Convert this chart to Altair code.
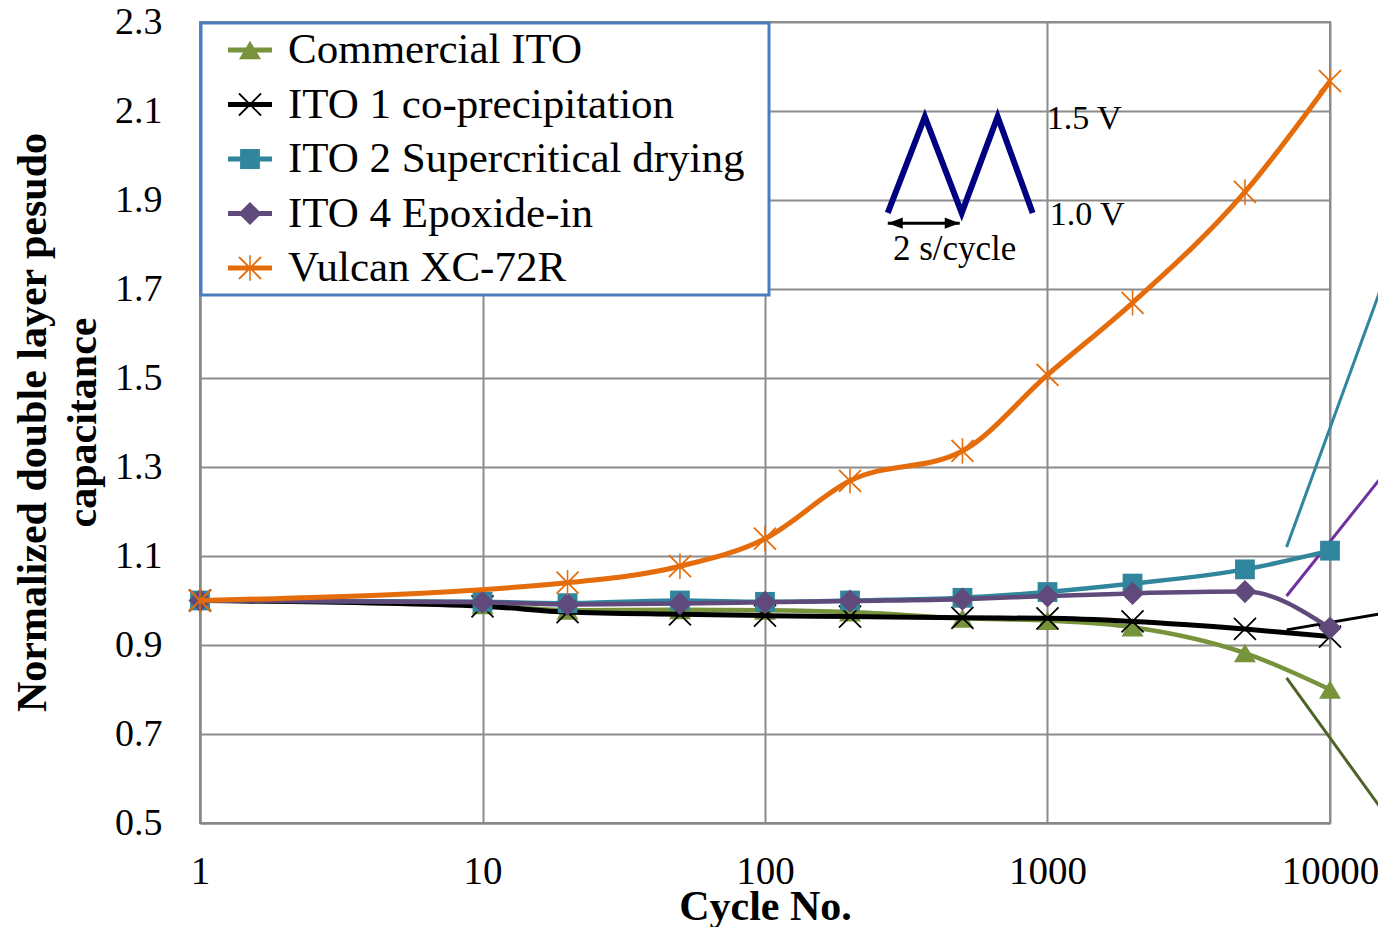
import altair as alt
import pandas as pd

# ---------------- data ----------------
cycles = [1, 10, 20, 50, 100, 200, 500, 1000, 2000, 5000, 10000]
series_names = ["Commercial ITO", "ITO 1 co-precipitation",
                "ITO 2 Supercritical drying", "ITO 4 Epoxide-in", "Vulcan XC-72R"]
commercial = [1.000, 0.990, 0.978, 0.979, 0.978, 0.974, 0.960, 0.955, 0.940, 0.882, 0.800]
ito1 = [1.000, 0.987, 0.974, 0.969, 0.966, 0.964, 0.961, 0.960, 0.953, 0.936, 0.919]
ito2 = [1.000, 0.997, 0.994, 1.000, 0.997, 1.000, 1.006, 1.019, 1.038, 1.070, 1.112]
ito4 = [1.000, 0.996, 0.991, 0.993, 0.996, 0.999, 1.003, 1.010, 1.016, 1.020, 0.938]
vulcan = [1.000, None, 1.040, 1.077, 1.139, 1.269, 1.336, 1.507, 1.669, 1.918, 2.167]
series_values = [commercial, ito1, ito2, ito4, vulcan]

# trend lines (drawn beyond the last cycle)
trend_x = [7020, 20000]
trend_commercial = [0.826, 0.427]
trend_ito1 = [0.934, 0.983]
trend_ito2 = [1.120, 1.912]
trend_ito4 = [1.010, 1.372]
trend_values = [trend_commercial, trend_ito1, trend_ito2, trend_ito4]

# inset: potential cycling schematic
wave_x = [272, 368, 497, 666, 886]
wave_y = [1.871, 2.087, 1.871, 2.087, 1.871]
arrow_x = [272, 489]
arrow_y = [1.848, 1.848]
inset_text = ["1.5 V", "1.0 V", "2 s/cycle"]
inset_text_x = [993, 1018, 469]
inset_text_y = [2.083, 1.866, 1.790]

y_ticks = [0.5, 0.7, 0.9, 1.1, 1.3, 1.5, 1.7, 1.9, 2.1, 2.3]
x_ticks = [1, 10, 100, 1000, 10000]

# ---------------- styles ----------------
colors = ["#77933C", "#000000", "#31859C", "#604A7B", "#E46C0A"]
trend_colors = ["#4F6228", "#000000", "#31859C", "#7030A0"]
line_widths = [4.5, 5, 4.5, 4.5, 5]

TRI = "M0,-0.85L-1,0.85L1,0.85Z"
SQR = "M-0.9,-0.9V0.9H0.9V-0.9Z"
DIA = "M0,-1.05L-1.05,0L0,1.05L1.05,0Z"
XX = ("M-1.057,-0.943L0.943,1.057L1.057,0.943L-0.943,-1.057Z"
      "M-0.943,1.057L1.057,-0.943L0.943,-1.057L-1.057,0.943Z")
AST = XX + "M-0.07,-1.15V1.15H0.07V-1.15Z"
BAR = "M-2,-0.22V0.22H2V-0.22Z"
marker_paths = [TRI, XX, SQR, DIA, AST]
legend_paths = [BAR + p for p in marker_paths]

FONT = "Liberation Serif"

rows = []
for name, vals in zip(series_names, series_values):
    for c, v in zip(cycles, vals):
        if v is not None:
            rows.append({"cycle": c, "value": v, "series": name})
df = pd.DataFrame(rows)

trows = []
for name, vals in zip(series_names, trend_values):
    for c, v in zip(trend_x, vals):
        trows.append({"cycle": c, "value": v, "series": name})
tdf = pd.DataFrame(trows)

legend_df = pd.DataFrame({"series": series_names, "i": list(range(5)),
                          "lcol": colors, "lpath": legend_paths})

xs = alt.Scale(type="log", domain=[1, 10000], nice=False)
ys = alt.Scale(domain=[0.5, 2.3], nice=False, zero=False)

X = alt.X("cycle:Q", scale=xs,
          axis=alt.Axis(values=x_ticks, format="d", title="Cycle No.",
                        labelFont=FONT, labelFontSize=39, labelColor="#000",
                        labelPadding=29, ticks=False, labelFlush=False,
                        labelOverlap=False,
                        domainColor="#868686", domainWidth=2,
                        grid=True, gridColor="#8C8C8C", gridWidth=2,
                        titleFont=FONT, titleFontSize=42, titleFontWeight="bold",
                        titleColor="#000", titleY=83, titleBaseline="middle"))
Y = alt.Y("value:Q", scale=ys,
          axis=alt.Axis(values=y_ticks, format=".1f",
                        title=["Normalized double layer pesudo", "capacitance"],
                        labelFont=FONT, labelFontSize=38, labelColor="#000",
                        labelPadding=38, ticks=False, labelFlush=False,
                        labelOverlap=False,
                        domainColor="#868686", domainWidth=2,
                        grid=True, gridColor="#8C8C8C", gridWidth=2,
                        titleFont=FONT, titleFontSize=42, titleFontWeight="bold",
                        titleColor="#000", titleLineHeight=50,
                        titleX=-168, titleY=400, titleAngle=270,
                        titleAlign="center", titleBaseline="middle"))

base = alt.Chart(df)
layers = []

# trend lines
for name, col in zip(series_names[:4], trend_colors):
    layers.append(
        alt.Chart(tdf).transform_filter(alt.datum.series == name)
        .mark_line(color=col, strokeWidth=3, clip=False)
        .encode(x=X, y=Y)
    )

for name, col, lw, path in zip(series_names, colors, line_widths, marker_paths):
    sub = base.transform_filter(alt.datum.series == name)
    layers.append(sub.mark_line(color=col, strokeWidth=lw, interpolate="monotone",
                                clip=False).encode(x=X, y=Y))
    layers.append(sub.mark_point(filled=True, opacity=1, size=484, strokeWidth=0,
                                 color=col, shape=path, clip=False).encode(x=X, y=Y))

# inset schematic
wave = alt.Chart(pd.DataFrame({"cycle": wave_x, "value": wave_y, "i": list(range(5))})) \
    .mark_line(color="#000080", strokeWidth=6, strokeJoin="miter", strokeCap="butt") \
    .encode(x=X, y=Y, order="i:Q")
arrow = alt.Chart(pd.DataFrame({"x1": [arrow_x[0]], "x2": [arrow_x[1]], "value": [arrow_y[0]]})) \
    .mark_rule(color="#000", strokeWidth=3) \
    .encode(x=alt.X("x1:Q", scale=xs), x2="x2:Q", y=alt.Y("value:Q", scale=ys))
heads = alt.Chart(pd.DataFrame({"cycle": arrow_x, "value": arrow_y,
                                "hd": ["M0,0L2,-0.75L2,0.75Z", "M0,0L-2,-0.75L-2,0.75Z"]})) \
    .mark_point(filled=True, opacity=1, size=225, color="#000", strokeWidth=0) \
    .encode(x=X, y=Y, shape=alt.Shape("hd:N", scale=None, legend=None))
tdf_in = pd.DataFrame({"cycle": inset_text_x, "value": inset_text_y, "t": inset_text,
                       "al": ["left", "left", "center"]})
texts_lr = alt.Chart(tdf_in).transform_filter(alt.datum.al == "left") \
    .mark_text(align="left", baseline="middle", font=FONT, fontSize=34, color="#000") \
    .encode(x=X, y=Y, text="t:N")
texts_c = alt.Chart(tdf_in).transform_filter(alt.datum.al == "center") \
    .mark_text(align="center", baseline="middle", font=FONT, fontSize=35, color="#000") \
    .encode(x=X, y=Y, text="t:N")

# legend (frame + entries laid out from the series list)
frame = alt.Chart(pd.DataFrame({"a": [0]})).mark_rect(
    fill="white", stroke="#4A7EBB", strokeWidth=3
).encode(x=alt.value(1), x2=alt.value(569), y=alt.value(1), y2=alt.value(273))
leg = alt.Chart(legend_df).transform_calculate(ly="28 + 54.5 * datum.i")
leg_sym = leg.mark_point(filled=True, opacity=1, size=484, strokeWidth=0).encode(
    x=alt.value(50), y=alt.Y("ly:Q", scale=None),
    shape=alt.Shape("lpath:N", scale=None, legend=None),
    color=alt.Color("lcol:N", scale=None, legend=None))
leg_txt = leg.mark_text(align="left", baseline="middle", font=FONT, fontSize=43,
                        color="#000").encode(
    x=alt.value(88), y=alt.Y("ly:Q", scale=None), text="series:N")

chart = alt.layer(*layers, wave, arrow, heads, texts_lr, texts_c,
                  frame, leg_sym, leg_txt).properties(
    width=1130, height=801,
    autosize=alt.AutoSizeParams(type="none"),
    padding={"left": 192, "top": 14, "right": 48, "bottom": 104},
).configure_view(stroke="#8C8C8C", strokeWidth=2)

chart.save("out.html", embed_options={"renderer": "svg", "actions": False})
